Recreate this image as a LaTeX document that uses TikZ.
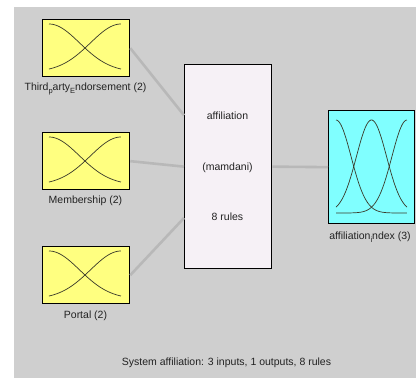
\documentclass[tikz,border=0pt]{standalone}
\usepackage{fontspec}
\setmainfont{Liberation Sans}
\usetikzlibrary{calc}
\definecolor{panel}{HTML}{CFCFCF}
\definecolor{wire}{HTML}{B8B8B8}
\definecolor{inyellow}{HTML}{FFFF80}
\definecolor{outcyan}{HTML}{80FFFF}
\definecolor{sysfill}{HTML}{F6F1F6}
\definecolor{mfline}{HTML}{3A3A2A}
\definecolor{txt}{HTML}{222222}
\newcommand{\sub}[1]{\raisebox{-3pt}{\fontsize{7.5}{8}\selectfont #1}}
\begin{document}
\begin{tikzpicture}[x=1pt,y=-1pt,
  varbox/.style={draw=black,line width=1.3pt,minimum width=87pt,minimum height=57pt,inner sep=0pt,anchor=north west,fill=inyellow},
  outbox/.style={draw=black,line width=1.3pt,minimum width=86pt,minimum height=113pt,inner sep=0pt,anchor=north west,fill=outcyan},
  sysbox/.style={draw=black,line width=1.3pt,minimum width=87pt,minimum height=204pt,inner sep=0pt,anchor=north west,fill=sysfill},
  lbl/.style={font=\fontsize{10.5}{12}\selectfont,text=txt,inner sep=0pt,anchor=center},
  conn/.style={draw=wire,line width=2.6pt},
  mf/.style={draw=mfline,line width=0.7pt}]
\useasboundingbox (0,0) rectangle (416,378);
\fill[white] (0,0) rectangle (416,378);
\fill[panel] (14,7) rectangle (416,378);

% input variables
\node[varbox] (in1) at (42,19) {};
\node[varbox] (in2) at (42,132) {};
\node[varbox] (in3) at (42,246) {};
% rule system
\node[sysbox] (sys) at (184,64) {};
% output variable
\node[outbox] (out) at (328,110) {};

% connectors
\coordinate (s1) at ($(sys.north west)!0.25!(sys.south west)$);
\coordinate (s3) at ($(sys.north west)!0.75!(sys.south west)$);
\draw[conn] (in1.east) -- (s1);
\draw[conn] (in2.east) -- (sys.west);
\draw[conn] (in3.east) -- (s3);
\draw[conn] (sys.east) -- (out.west);

% membership functions of the inputs (two each)
\foreach \top in {24,137,251}{
  \draw[mf] plot[domain=0:1,samples=40,smooth] ({49+72*\x},{\top+48-48*exp(-(\x)*(\x)/0.36)});
  \draw[mf] plot[domain=0:1,samples=40,smooth] ({49+72*\x},{\top+48-48*exp(-(1-\x)*(1-\x)/0.36)});
}
% membership functions of the output (three)
\draw[mf] plot[domain=0:1,samples=60,smooth] ({336+71*\x},{213-93*exp(-(\x)*(\x)/0.0902)});
\draw[mf] plot[domain=0:1,samples=60,smooth] ({336+71*\x},{213-93*exp(-(\x-0.5)*(\x-0.5)/0.0902)});
\draw[mf] plot[domain=0:1,samples=60,smooth] ({336+71*\x},{213-93*exp(-(1-\x)*(1-\x)/0.0902)});

% labels
\node[lbl] (l1) at (85.5,89) {Third\sub{p}arty\sub{E}ndorsement (2)};
\node[lbl] (l2) at (85.5,201) {Membership (2)};
\node[lbl] (l3) at (85.5,316) {Portal (2)};
\node[lbl] (lo) at (370,237) {affiliation\sub{i}ndex (3)};
\node[lbl] (t1) at (227.5,116) {affiliation};
\node[lbl] (t2) at (227.5,168) {(mamdani)};
\node[lbl] (t3) at (227.5,217) {8 rules};
\node[lbl] (st) at (226.5,363) {System affiliation: 3 inputs, 1 outputs, 8 rules};
\end{tikzpicture}
\end{document}
